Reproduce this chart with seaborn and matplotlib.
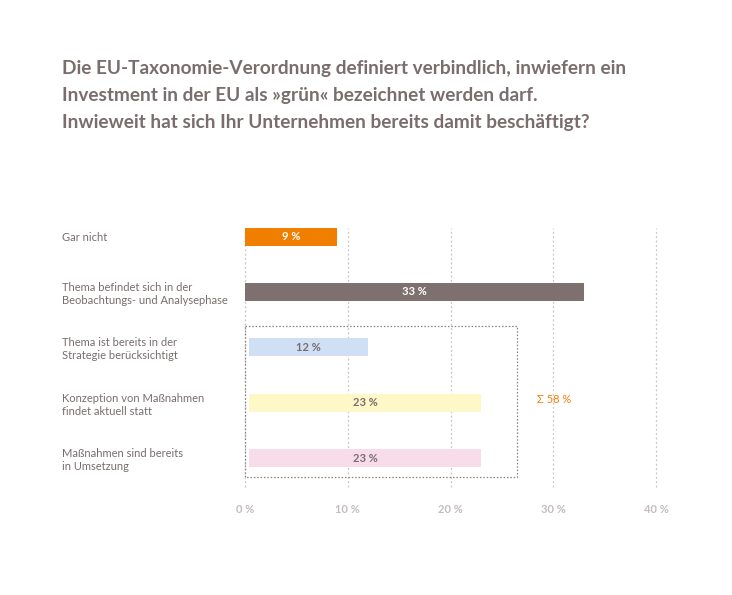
import matplotlib
matplotlib.use("Agg")
import matplotlib.pyplot as plt
import seaborn as sns
import pandas as pd
from matplotlib.patches import Rectangle

categories = [
    "Gar nicht",
    "Thema befindet sich in der\nBeobachtungs- und Analysephase",
    "Thema ist bereits in der\nStrategie berücksichtigt",
    "Konzeption von Maßnahmen\nfindet aktuell statt",
    "Maßnahmen sind bereits\nin Umsetzung",
]
values = [9, 33, 12, 23, 23]
value_labels = ["9 %", "33 %", "12 %", "23 %", "23 %"]
bar_colors = ["#f07f00", "#7f7070", "#cfe0f5", "#fef7c8", "#f9dcea"]
label_colors = ["white", "white", "#7a6d6d", "#7a6d6d", "#7a6d6d"]
x_ticks = [0, 10, 20, 30, 40]
x_ticklabels = ["0 %", "10 %", "20 %", "30 %", "40 %"]
sum_label = "Σ 58 %"
title = ("Die EU-Taxonomie-Verordnung definiert verbindlich, inwiefern ein\n"
         "Investment in der EU als »grün« bezeichnet werden darf.\n"
         "Inwieweit hat sich Ihr Unternehmen bereits damit beschäftigt?")

sns.set_theme(style="white")
plt.rcParams['font.family'] = ['Lato', 'DejaVu Sans']

df = pd.DataFrame({"cat": categories, "val": values})

fig = plt.figure(figsize=(7.32, 5.95), dpi=100)
ax = fig.add_axes([245/732, 1-487/595, (656-245)/732, (487-228)/595])

sns.barplot(data=df, y="cat", x="val", hue="cat", palette=bar_colors,
            orient="h", width=0.33, legend=False, ax=ax, saturation=1)

# shift grouped bars slightly right (as in original)
for i, p in enumerate(ax.patches):
    if i >= 2:
        p.set_x(0.4)
        p.set_width(values[i] - 0.4)
    p.set_edgecolor("none")

for i, (v, lab) in enumerate(zip(values, value_labels)):
    ax.text(v / 2 + (0.2 if i >= 2 else 0), i, lab, ha="center", va="center",
            fontsize=8, fontweight="bold", color=label_colors[i])

ax.set_xlim(0, 40)
ax.set_ylim(4.52, -0.153)
ax.set_xticks(x_ticks, x_ticklabels)
ax.set_yticks(range(len(categories)), categories)
ax.set_xlabel("")
ax.set_ylabel("")
for s in ax.spines.values():
    s.set_visible(False)
ax.xaxis.grid(True, linestyle=(0, (1.5, 2)), color="#c8c4c4", linewidth=0.9)
for gl in ax.get_xgridlines():
    gl.set_clip_on(False)
ax.set_axisbelow(True)
ax.tick_params(axis="x", length=0, pad=12, labelsize=8, labelcolor="#c4bcbc")
ax.tick_params(axis="y", length=0, pad=131.8, labelsize=8, labelcolor="#7a6d6d")
for t in ax.get_yticklabels():
    t.set_ha("left")
for t in ax.get_xticklabels():
    t.set_fontweight("bold")

# dotted group box
box = Rectangle((0, 1.62), 26.5, 2.72, fill=False, edgecolor="#8a8080",
                linestyle=(0, (1.2, 1.5)), linewidth=0.9, clip_on=False)
ax.add_patch(box)
ax.text(30.1, 2.95, sum_label, ha="center", va="center", fontsize=8, color="#f07f00")

fig.text(62/732, 1-60/595, title, ha="left", va="top", fontsize=13.7,
         fontweight="bold", color="#7a6d6d", linespacing=1.72)

fig.savefig("out.png", dpi=100, facecolor="white")
